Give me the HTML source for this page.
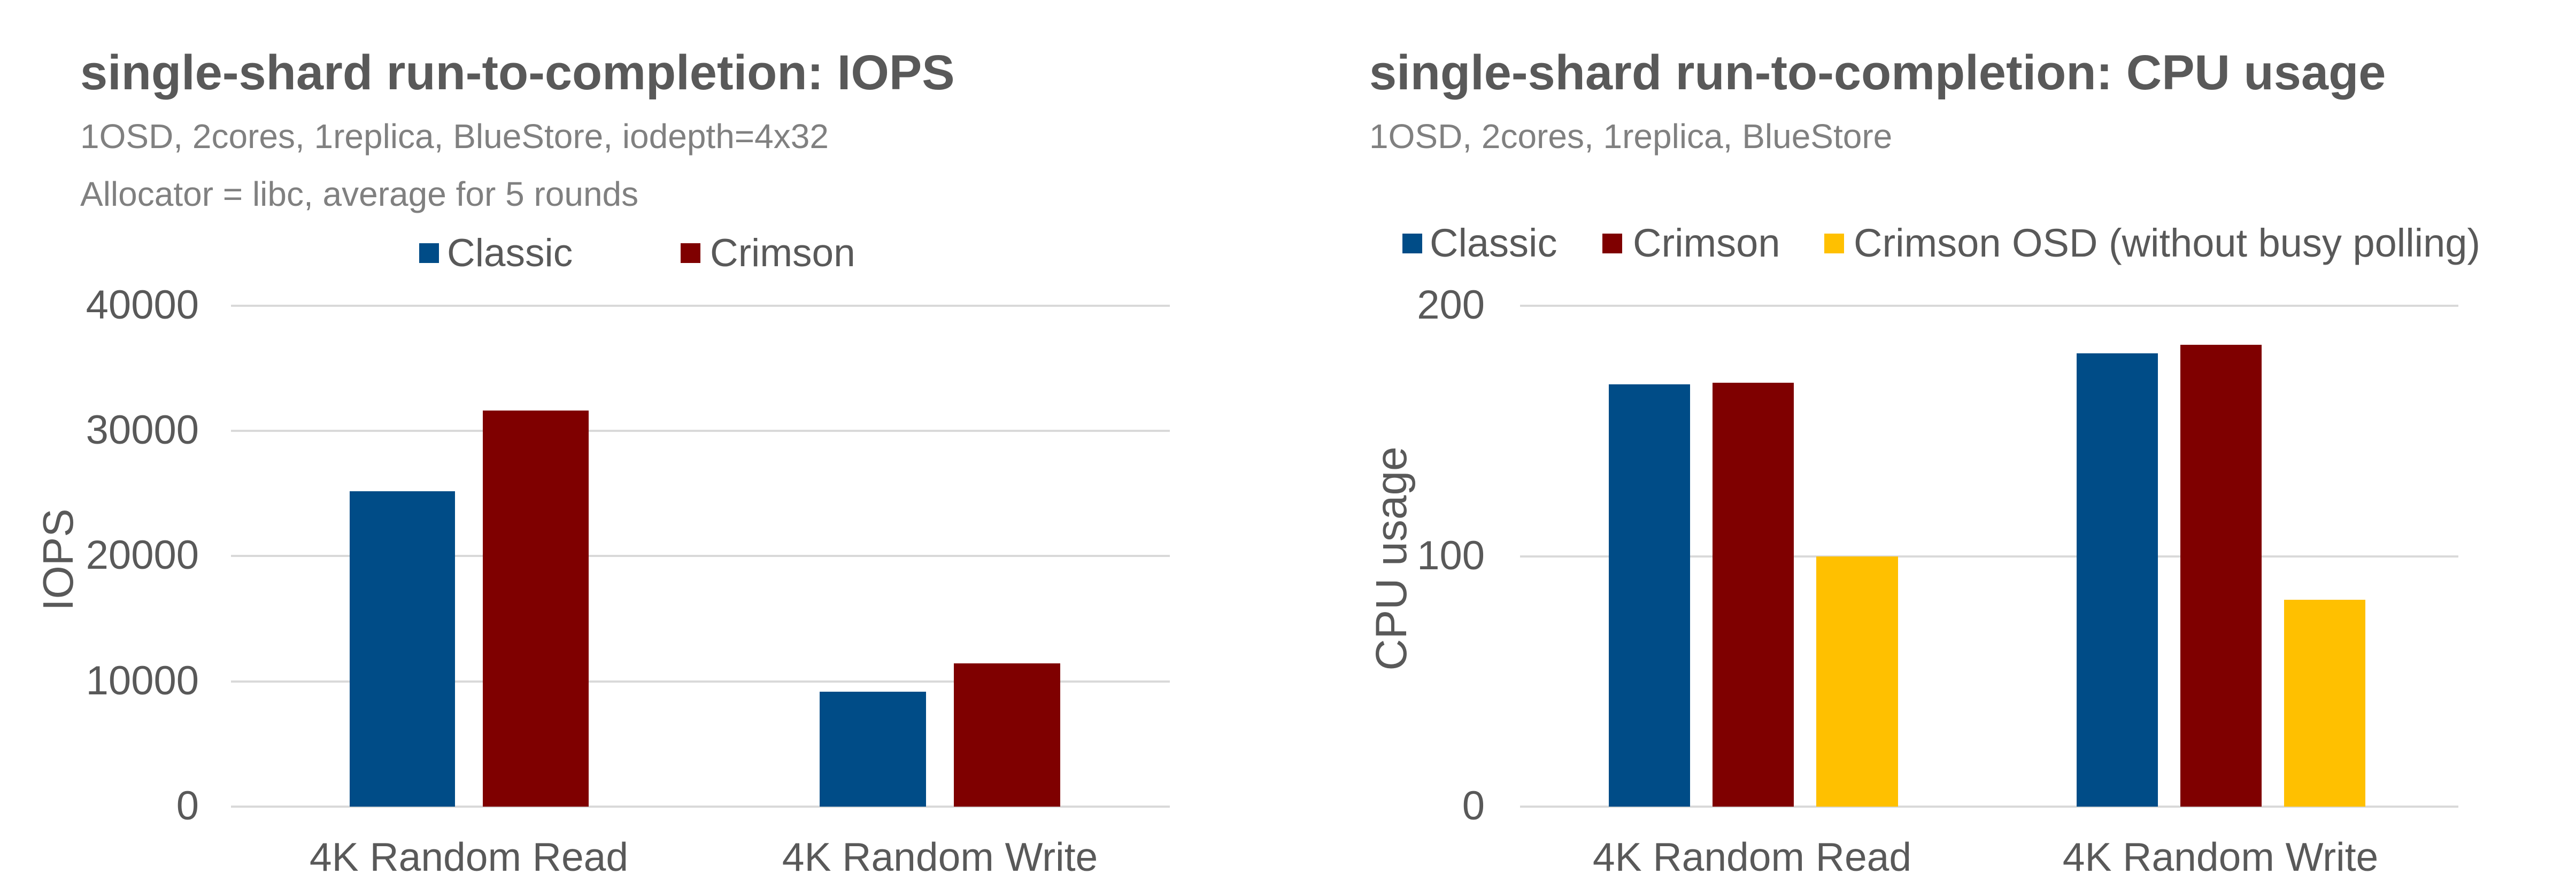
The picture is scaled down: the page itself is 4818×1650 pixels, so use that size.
<!DOCTYPE html>
<html><head><meta charset="utf-8"><style>
html,body{margin:0;padding:0;background:#fff;}
svg{display:block;}
text{font-family:"Liberation Sans",Arial,sans-serif;}
</style></head><body>
<svg width="4818" height="1650" viewBox="0 0 4818 1650" xmlns="http://www.w3.org/2000/svg">
<rect width="4818" height="1650" fill="#fff"/>
<!-- LEFT CHART -->
<text x="150" y="167" font-size="92" font-weight="bold" fill="#595959">single-shard run-to-completion: IOPS</text>
<text x="150" y="277" font-size="64" fill="#808080">1OSD, 2cores, 1replica, BlueStore, iodepth=4x32</text>
<text x="150" y="385" font-size="64" fill="#808080">Allocator = libc, average for 5 rounds</text>
<rect x="784" y="455" width="37" height="37" fill="#004c87"/>
<text x="836" y="498" font-size="73" fill="#595959">Classic</text>
<rect x="1273" y="455" width="37" height="37" fill="#7f0000"/>
<text x="1328" y="498" font-size="73" fill="#595959">Crimson</text>
<g stroke="#d9d9d9" stroke-width="4">
<line x1="432" y1="572" x2="2188" y2="572"/>
<line x1="432" y1="806" x2="2188" y2="806"/>
<line x1="432" y1="1040" x2="2188" y2="1040"/>
<line x1="432" y1="1275" x2="2188" y2="1275"/>
<line x1="432" y1="1509" x2="2188" y2="1509"/>
</g>
<g font-size="76" fill="#595959" text-anchor="end">
<text x="372" y="596">40000</text>
<text x="372" y="830">30000</text>
<text x="372" y="1064">20000</text>
<text x="372" y="1299">10000</text>
<text x="372" y="1533">0</text>
</g>
<rect x="654" y="919" width="197" height="590" fill="#004c87"/>
<rect x="903" y="768" width="198" height="741" fill="#7f0000"/>
<rect x="1533" y="1294" width="199" height="215" fill="#004c87"/>
<rect x="1784" y="1241" width="199" height="268" fill="#7f0000"/>
<text transform="translate(136,1047) rotate(-90)" font-size="80" fill="#595959" text-anchor="middle">IOPS</text>
<g font-size="75" fill="#595959" text-anchor="middle">
<text x="877" y="1629">4K Random Read</text>
<text x="1758" y="1629">4K Random Write</text>
</g>
<!-- RIGHT CHART -->
<text x="2561" y="167" font-size="92" font-weight="bold" fill="#595959">single-shard run-to-completion: CPU usage</text>
<text x="2561" y="277" font-size="64" fill="#808080">1OSD, 2cores, 1replica, BlueStore</text>
<rect x="2623" y="437" width="37" height="37" fill="#004c87"/>
<text x="2674" y="480" font-size="74" fill="#595959">Classic</text>
<rect x="2997" y="437" width="37" height="37" fill="#7f0000"/>
<text x="3054" y="480" font-size="74" fill="#595959">Crimson</text>
<rect x="3412" y="437" width="37" height="37" fill="#ffc000"/>
<text x="3467" y="480" font-size="74" fill="#595959">Crimson OSD (without busy polling)</text>
<g stroke="#d9d9d9" stroke-width="4">
<line x1="2843" y1="572" x2="4598" y2="572"/>
<line x1="2843" y1="1041" x2="4598" y2="1041"/>
<line x1="2843" y1="1509" x2="4598" y2="1509"/>
</g>
<g font-size="76" fill="#595959" text-anchor="end">
<text x="2777" y="596">200</text>
<text x="2777" y="1065">100</text>
<text x="2777" y="1533">0</text>
</g>
<rect x="3009" y="719" width="152" height="790" fill="#004c87"/>
<rect x="3203" y="716" width="152" height="793" fill="#7f0000"/>
<rect x="3397" y="1041" width="153" height="468" fill="#ffc000"/>
<rect x="3884" y="661" width="152" height="848" fill="#004c87"/>
<rect x="4078" y="645" width="152" height="864" fill="#7f0000"/>
<rect x="4272" y="1122" width="152" height="387" fill="#ffc000"/>
<text transform="translate(2630,1045) rotate(-90)" font-size="82" fill="#595959" text-anchor="middle">CPU usage</text>
<g font-size="75" fill="#595959" text-anchor="middle">
<text x="3277" y="1629">4K Random Read</text>
<text x="4153" y="1629">4K Random Write</text>
</g>
</svg>
</body></html>
